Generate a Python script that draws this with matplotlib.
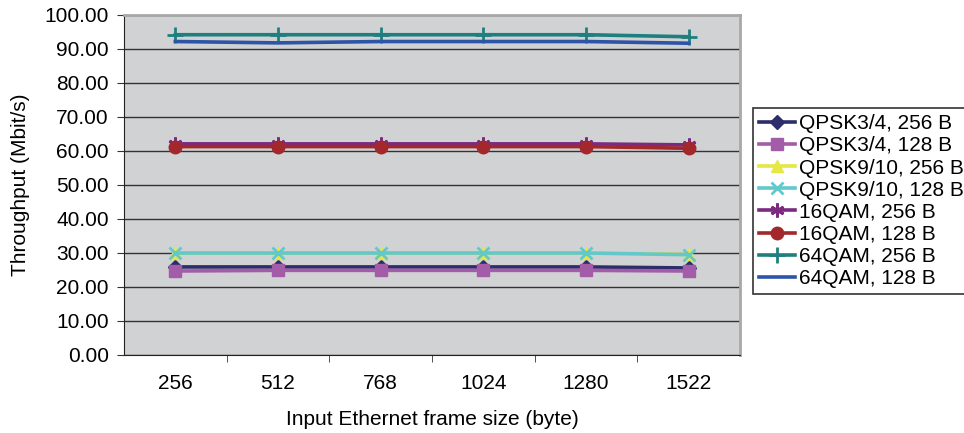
import numpy as np
import matplotlib.pyplot as plt

plt.rcParams['font.family'] = ['Liberation Sans', 'DejaVu Sans']

frame_sizes = ['256', '512', '768', '1024', '1280', '1522']

qpsk34_256 = [25.9, 25.9, 25.9, 25.9, 25.9, 25.6]
qpsk34_128 = [24.7, 24.9, 24.9, 24.9, 24.9, 24.7]
qpsk910_256 = [30.0, 30.0, 30.0, 30.0, 30.0, 29.6]
qpsk910_128 = [30.0, 30.0, 30.0, 30.0, 30.0, 29.5]
qam16_256 = [62.1, 62.1, 62.1, 62.1, 62.1, 61.8]
qam16_128 = [61.3, 61.3, 61.3, 61.3, 61.3, 60.8]
qam64_256 = [94.2, 94.2, 94.2, 94.2, 94.2, 93.6]
qam64_128 = [92.2, 91.8, 92.2, 92.2, 92.2, 91.7]

series = [
    ("QPSK3/4, 256 B", qpsk34_256, '#2e2d6b', 'D', 7),
    ("QPSK3/4, 128 B", qpsk34_128, '#a35ca8', 's', 9),
    ("QPSK9/10, 256 B", qpsk910_256, '#e6e645', '^', 9),
    ("QPSK9/10, 128 B", qpsk910_128, '#62c8cc', 'x', 9),
    ("16QAM, 256 B", qam16_256, '#7b2a80', (6, 2, 0), 10),
    ("16QAM, 128 B", qam16_128, '#a3282b', 'o', 9),
    ("64QAM, 256 B", qam64_256, '#1f7f7e', '+', 11),
    ("64QAM, 128 B", qam64_128, '#2e54a8', None, 0),
]

fig = plt.figure(figsize=(9.64, 4.33), dpi=100)
ax = fig.add_axes([124/964, 78/433, 616/964, 340/433])
ax.set_facecolor('#d1d2d4')

x = np.arange(1, len(frame_sizes) + 1)
for name, vals, col, mk, ms in series:
    ax.plot(x, vals, color=col, lw=2.6, marker=mk, ms=ms, mew=2 if mk in ('x', '+', (6, 2, 0)) else 1,
            label=name)

ax.set_xlim(0.5, 6.5)
ax.set_ylim(0, 100)
ax.set_yticks(np.arange(0, 101, 10))
ax.set_yticklabels([f"{v:.2f}" for v in range(0, 101, 10)])
ax.yaxis.grid(True, color='#333333', lw=1)
ax.set_axisbelow(True)

ax.set_xticks(x)
ax.set_xticklabels(frame_sizes)
ax.set_xticks(np.arange(1.5, 6.5, 1), minor=True)
ax.tick_params(axis='x', which='major', length=0, pad=14, labelsize=15)
ax.tick_params(axis='x', which='minor', length=5, direction='out', color='#333333')
ax.tick_params(axis='y', length=5, labelsize=15, color='#333333', pad=6)

for s in ('top', 'right'):
    ax.spines[s].set_color('#a8a8a8')
    ax.spines[s].set_linewidth(2)
ax.spines['left'].set_color('#222222')
ax.spines['bottom'].set_color('#222222')

ax.set_ylabel("Throughput (Mbit/s)", fontsize=15, labelpad=10)
ax.set_xlabel("Input Ethernet frame size (byte)", fontsize=15, labelpad=12)

leg = fig.legend(loc='upper left', bbox_to_anchor=(753/964, 1 - 108/433), fontsize=15,
                 frameon=True, fancybox=False, edgecolor='black', borderpad=0.3,
                 handlelength=1.7, handletextpad=0.2, labelspacing=0.15, borderaxespad=0)
leg.get_frame().set_linewidth(1.2)

fig.savefig('out.png', dpi=100)
